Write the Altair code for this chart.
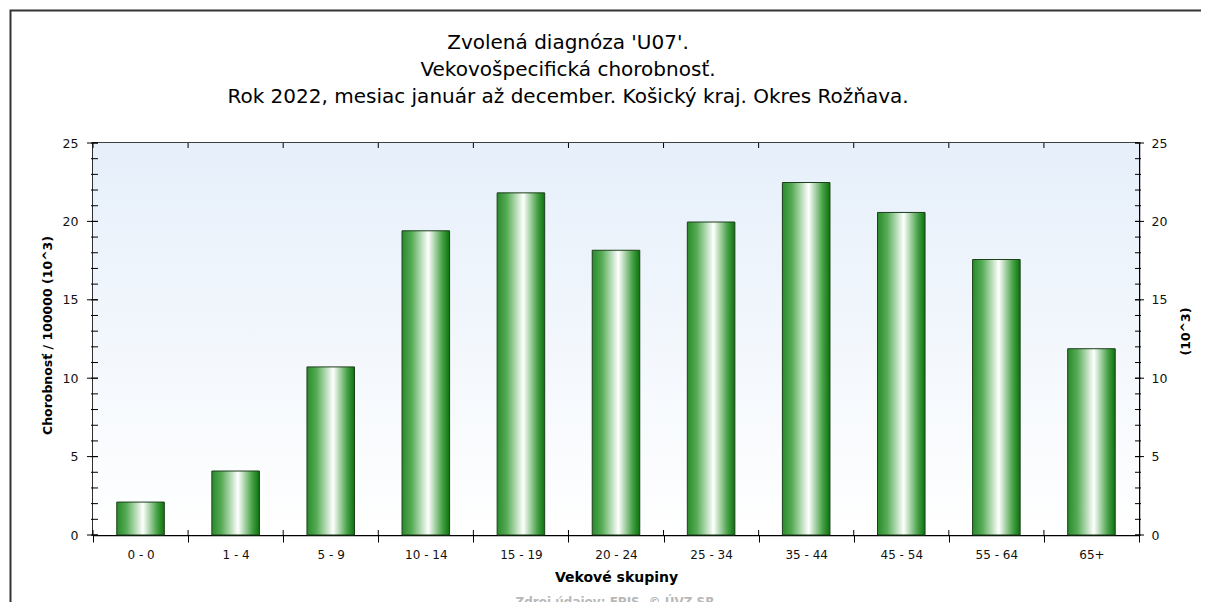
import altair as alt
import pandas as pd

# ---- data ----
categories = ["0 - 0", "1 - 4", "5 - 9", "10 - 14", "15 - 19", "20 - 24",
              "25 - 34", "35 - 44", "45 - 54", "55 - 64", "65+"]
values = [2.1, 4.08, 10.72, 19.4, 21.82, 18.16, 19.96, 22.48, 20.57, 17.57, 11.88]
y_major = [0, 5, 10, 15, 20, 25]
y_minor = list(range(0, 26))
title_lines = ["Zvolená diagnóza 'U07'.",
               "Vekovošpecifická chorobnosť.",
               "Rok 2022, mesiac január až december. Košický kraj. Okres Rožňava."]
y_title = "Chorobnosť / 100000 (10^3)"
y2_title = "(10^3)"
x_title = "Vekové skupiny"
source_text = "Zdroj údajov: EPIS, © ÚVZ SR"

W, H = 1046, 392
FONT = "DejaVu Sans"

bars_df = pd.DataFrame({"cat": categories, "val": values})
major_df = pd.DataFrame({"v": y_major})
minor_df = pd.DataFrame({"v": y_minor})
cat_df = pd.DataFrame({"cat": categories})
one = pd.DataFrame({"a": [0]})

yscale = alt.Scale(domain=[0, 25], nice=False, zero=True)
xscale = alt.Scale(domain=categories, paddingInner=0, paddingOuter=0)

xaxis = alt.Axis(title=x_title, labelAngle=0, tickBand="extent",
                 tickSize=7, tickColor="#000", tickWidth=1,
                 domainColor="#000", domainWidth=1.5,
                 labelPadding=7, labelFontSize=12, labelColor="#111",
                 labelFont=FONT, titleFont=FONT, titleFontSize=14,
                 titleFontWeight="bold", titleColor="#000",
                 titleX=W / 2, titleY=42, titleBaseline="middle")

bg = alt.Chart(one).mark_rect(
    color={"gradient": "linear", "x1": 0, "x2": 0, "y1": 0, "y2": 1,
           "stops": [{"offset": 0, "color": "#e6effa"},
                     {"offset": 1, "color": "#ffffff"}]}
).encode(x=alt.value(0), x2=alt.value(W), y=alt.value(0), y2=alt.value(H))

frame = alt.Chart(one).mark_rect(
    filled=False, stroke="#333333", strokeWidth=2
).encode(x=alt.value(-82.5), x2=alt.value(W + 300),
         y=alt.value(-132.5), y2=alt.value(H + 300))

bar_grad = {"gradient": "linear", "x1": 0, "x2": 1, "y1": 0, "y2": 0,
            "stops": [{"offset": 0, "color": "#2a8a2a"},
                      {"offset": 0.2, "color": "#55ab55"},
                      {"offset": 0.55, "color": "#ffffff"},
                      {"offset": 0.85, "color": "#45a045"},
                      {"offset": 1, "color": "#0c720c"}]}

bars = alt.Chart(bars_df).mark_bar(
    color=bar_grad, stroke="#1c3f1c", strokeWidth=1,
    width=alt.RelativeBandSize(0.5)
).encode(
    x=alt.X("cat:N", sort=categories, scale=xscale, axis=xaxis),
    y=alt.Y("val:Q", scale=yscale,
            axis=alt.Axis(title=y_title, values=y_major, tickSize=0,
                          labelPadding=15, labelFontSize=12.5, labelColor="#111",
                          labelFont=FONT, domainColor="#000", domainWidth=1.5,
                          grid=False, titleFont=FONT, titleFontSize=12.5,
                          titleFontWeight="bold", titleColor="#000",
                          titleAngle=-90, titleX=-46, titleY=H / 2 - 4,
                          titleAlign="center", titleBaseline="middle")),
)

# y tick marks crossing the left and right axis lines
left_minor = alt.Chart(minor_df).mark_rule(color="#000", strokeWidth=1).encode(
    y=alt.Y("v:Q", scale=yscale, axis=None), x=alt.value(-2), x2=alt.value(5))
left_major = alt.Chart(major_df).mark_rule(color="#000", strokeWidth=1).encode(
    y=alt.Y("v:Q", scale=yscale, axis=None), x=alt.value(-6), x2=alt.value(5))
right_minor = alt.Chart(minor_df).mark_rule(color="#000", strokeWidth=1).encode(
    y=alt.Y("v:Q", scale=yscale, axis=None), x=alt.value(W - 4), x2=alt.value(W + 2))
right_major = alt.Chart(major_df).mark_rule(color="#000", strokeWidth=1).encode(
    y=alt.Y("v:Q", scale=yscale,
            axis=alt.Axis(orient="right", title=y2_title, values=y_major,
                          tickSize=0, labelPadding=12, labelFontSize=12.5,
                          labelColor="#111", labelFont=FONT,
                          domainColor="#000", domainWidth=1.5, grid=False,
                          titleFont=FONT, titleFontSize=12.5,
                          titleFontWeight="bold", titleColor="#000",
                          titleAngle=-90, titleX=46, titleY=H / 2 - 8,
                          titleAlign="center", titleBaseline="middle")),
    x=alt.value(W - 4), x2=alt.value(W + 5))

# x tick marks: inward part at bottom, small ticks at the top edge
x_in = alt.Chart(cat_df).mark_rule(color="#000", strokeWidth=1).encode(
    x=alt.X("cat:N", sort=categories, scale=xscale, bandPosition=0, axis=xaxis),
    y=alt.value(H - 5), y2=alt.value(H))
x_top = alt.Chart(cat_df).mark_rule(color="#000", strokeWidth=1).encode(
    x=alt.X("cat:N", sort=categories, scale=xscale, bandPosition=0, axis=xaxis),
    y=alt.value(0), y2=alt.value(5))

title = alt.Chart(one).mark_text(
    font=FONT, fontSize=20, color="#000", align="center", baseline="middle",
    lineBreak="\n", lineHeight=27
).encode(text=alt.value("\n".join(title_lines)),
         x=alt.value(475), y=alt.value(-100))

source = alt.Chart(one).mark_text(
    font=FONT, fontSize=12, fontWeight="bold", color="#b8b8b8",
    align="center", baseline="middle"
).encode(text=alt.value(source_text), x=alt.value(522), y=alt.value(459))

chart = alt.layer(
    frame, bg, bars, left_minor, left_major, right_minor, right_major,
    x_in, x_top, title, source
).resolve_axis(y="independent").properties(
    width=W, height=H,
    autosize=alt.AutoSizeParams(type="none"),
    padding={"left": 85, "top": 135, "right": 62, "bottom": 67},
    background="#ffffff",
).configure_view(stroke="#000", strokeWidth=1.5)

chart.save("out.html", embed_options={"renderer": "svg", "actions": False})
